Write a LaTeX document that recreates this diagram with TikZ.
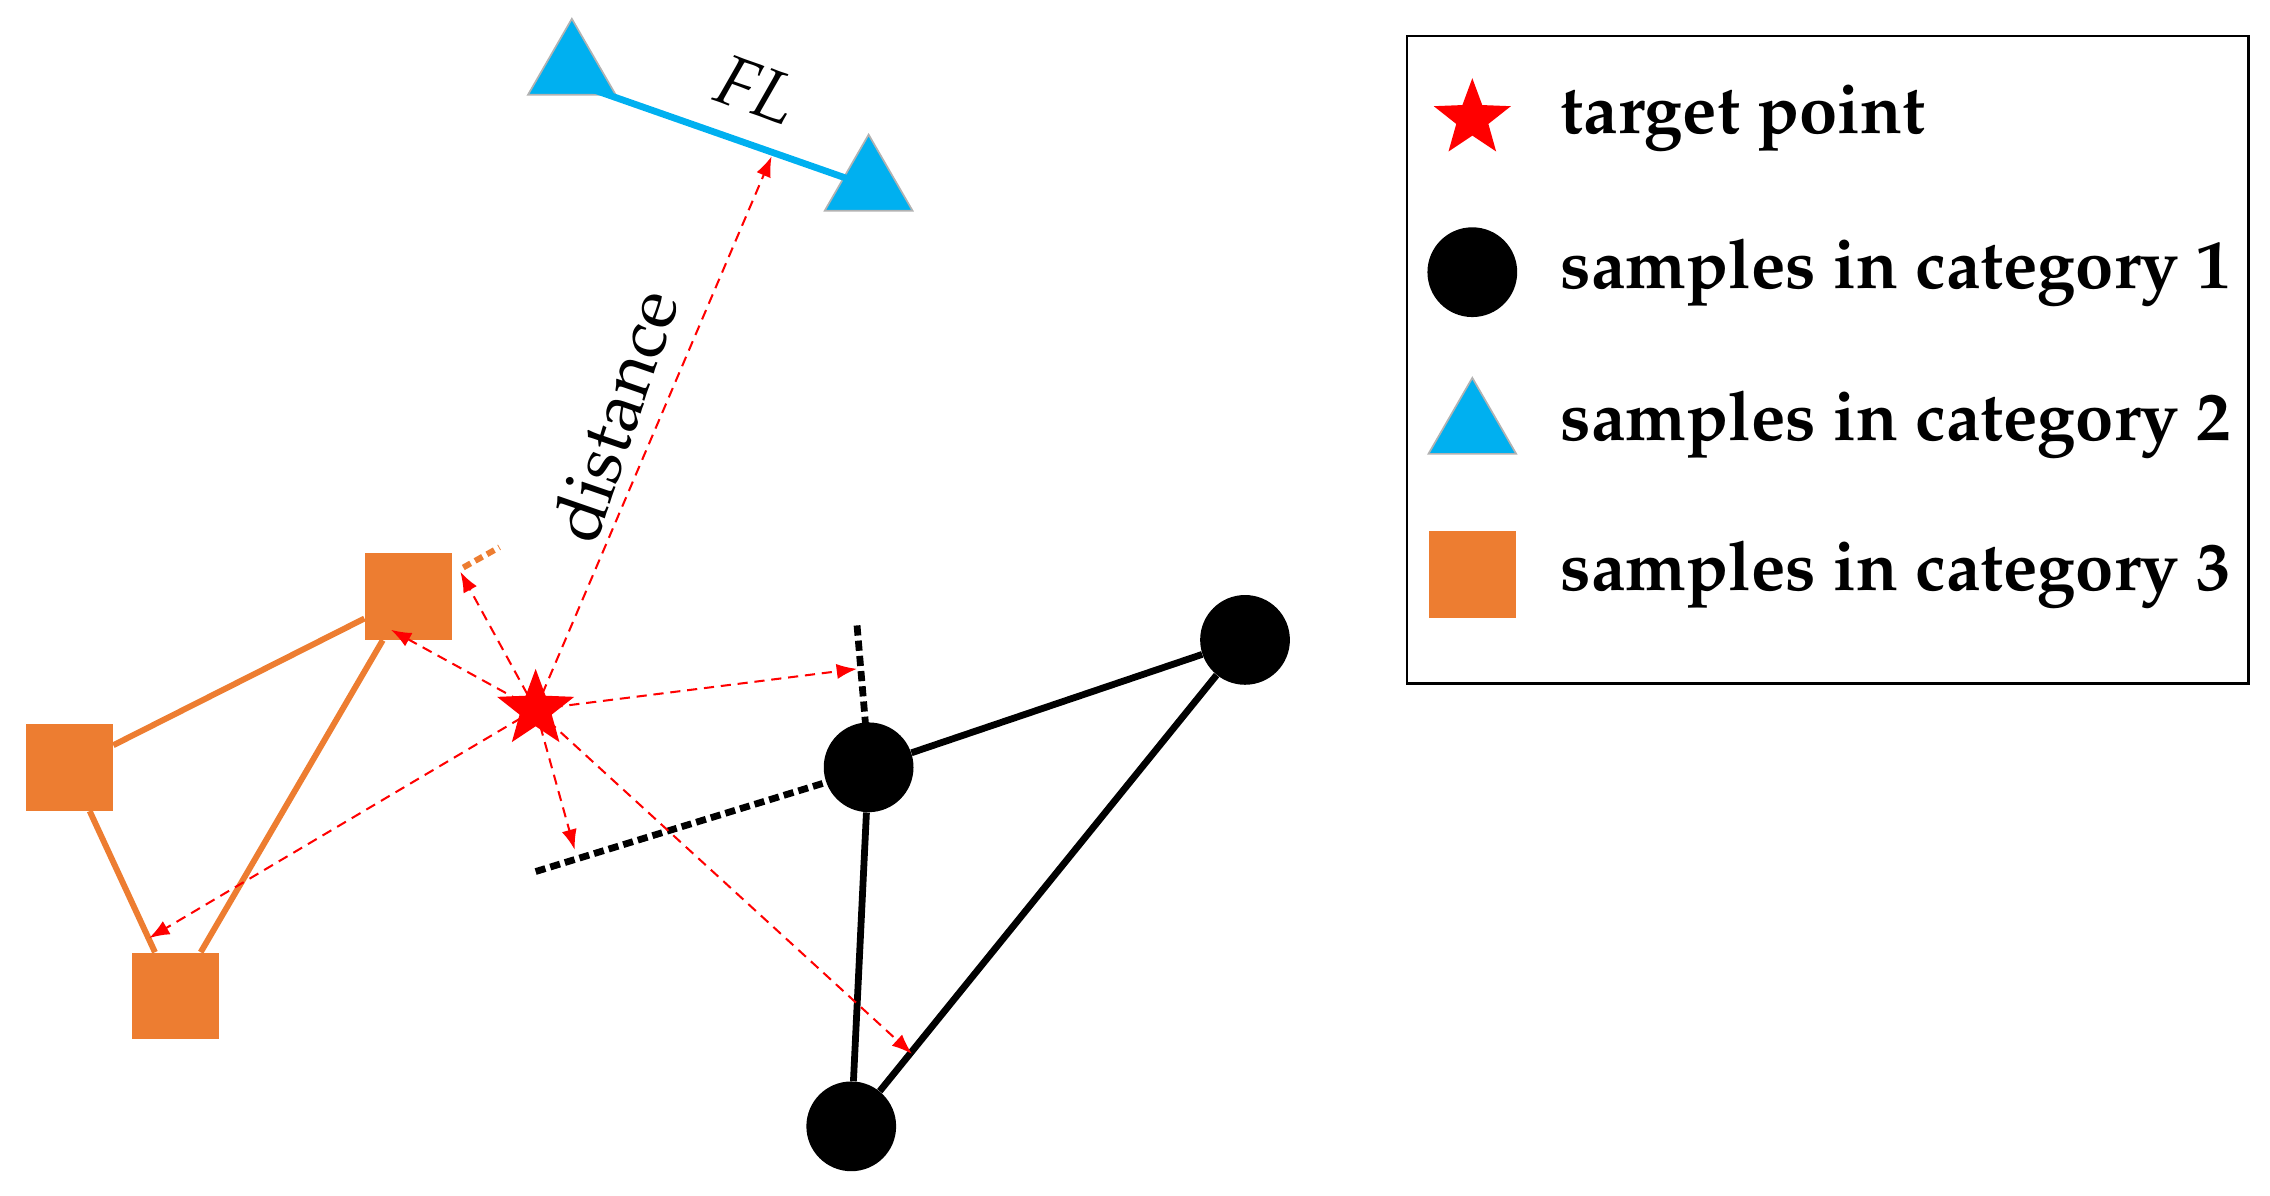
\documentclass[tikz,border=0pt]{standalone}
\usepackage[T1]{fontenc}
\usepackage{mathpazo}
\usetikzlibrary{shapes.geometric,arrows.meta}
\definecolor{blu}{HTML}{00B0F0}
\definecolor{org}{HTML}{ED7D31}
\begin{document}
\begin{tikzpicture}[x=0.03cm,y=-0.03cm,
 tri/.style={regular polygon,regular polygon sides=3,fill=blu,draw=gray!60,line width=1pt,minimum size=70*0.03cm,inner sep=0},
 sq/.style={rectangle,fill=org,minimum size=60*0.03cm,inner sep=0},
 cir/.style={circle,fill=black,minimum size=62*0.03cm,inner sep=0},
 st/.style={star,star points=5,star point ratio=2.4,fill=red,minimum size=56*0.03cm,inner sep=0},
 arr/.style={red,dashed,line width=1.2pt,dash pattern=on 6pt off 4pt,-{Latex[length=12pt,width=9pt]}},
 lbl/.style={font=\fontsize{40.5}{44}\selectfont\bfseries,anchor=west}]
\useasboundingbox (0,0) rectangle (1568,826);
\node[tri] (t1) at (395,48) {};
\node[tri] (t2) at (600,128) {};
\coordinate (fl1) at (410,62); \coordinate (fl2) at (590,125);
\draw[blu,line width=4pt] (fl1) -- (fl2);
\node[font=\fontsize{42}{46}\selectfont\itshape,rotate=-20] (fl) at (523,62) {FL};
\node[sq] (s1) at (282,412) {};
\node[sq] (s2) at (48,530) {};
\node[sq] (s3) at (121,688) {};
\draw[org,line width=3.5pt] (s1) -- (s2) (s1) -- (s3) (s2) -- (s3);
\coordinate (o1) at (320,392); \coordinate (o2) at (345,378);
\draw[org,line width=3.5pt,dash pattern=on 5pt off 3pt] (o1) -- (o2);
\node[cir] (c1) at (600,530) {};
\node[cir] (c2) at (860,442) {};
\node[cir] (c3) at (588,778) {};
\draw[line width=4pt] (c1) -- (c2) (c2) -- (c3) (c1) -- (c3);
\coordinate (d1) at (592,432); \coordinate (d2) at (598,502);
\coordinate (d3) at (370,602); \coordinate (d4) at (572,540);
\draw[line width=4pt,dash pattern=on 6pt off 3pt] (d1) -- (d2) (d3) -- (d4);
\node[st] (s) at (370,490) {};
\coordinate (a1) at (533,108); \coordinate (a2) at (318,395);
\coordinate (a3) at (270,435); \coordinate (a4) at (103,648);
\coordinate (a5) at (592,462); \coordinate (a6) at (397,587);
\coordinate (a7) at (630,728);
\foreach \a in {a1,a2,a3,a4,a5,a6,a7} \draw[arr] (s.center) -- (\a);
\node[font=\fontsize{42}{46}\selectfont,rotate=71] at (424,287) {distance};
\draw[line width=1.5pt] (972,25) rectangle (1553,472);
\node[st] (ls) at (1017,82) {};
\node[cir] (lc) at (1017,188) {};
\node[tri] (lt) at (1017,296) {};
\node[sq] (lq) at (1017,397) {};
\node[lbl] at (1074,82) {target point};
\node[lbl] at (1074,188) {samples in category 1};
\node[lbl] at (1074,293) {samples in category 2};
\node[lbl] at (1074,397) {samples in category 3};
\end{tikzpicture}
\end{document}
